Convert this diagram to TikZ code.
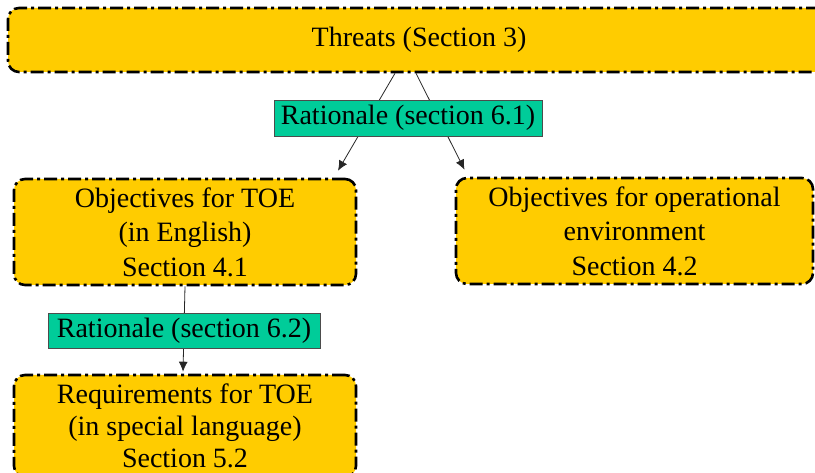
\documentclass[tikz,border=0pt]{standalone}
\usepackage{fontspec}
\setmainfont{Liberation Serif}
\usepackage{tikz}
\usetikzlibrary{arrows.meta}

\definecolor{boxgold}{RGB}{255,204,0}
\definecolor{ratgreen}{RGB}{0,204,153}

\begin{document}
\begin{tikzpicture}[x=1pt,y=-1pt,
  part/.style={draw=black, fill=boxgold, line width=2.6pt, rounded corners=11pt,
    dash pattern=on 13pt off 4pt on 3pt off 4pt, align=center,
    inner sep=0pt, font=\fontsize{28}{34.5}\selectfont},
  rationale/.style={draw=black!70, fill=ratgreen, thin, inner sep=0pt,
    font=\fontsize{28}{30}\selectfont},
  conn/.style={draw=black!85, line width=0.8pt, -{Latex[length=10pt,width=9pt]}}]
\useasboundingbox (0,0) rectangle (815,473);
\clip (0,0) rectangle (815,473);
\node[part, minimum width=822pt, minimum height=64pt] (threats) at (419,40) {Threats (Section 3)};
\node[part, minimum width=342pt, minimum height=106pt] (objtoe) at (185,232) {Objectives for TOE\\(in English)\\Section 4.1};
\node[part, minimum width=357pt, minimum height=106pt] (objenv) at (634.5,231) {Objectives for operational\\environment\\Section 4.2};
\node[part, minimum width=342pt, minimum height=102pt, font=\fontsize{28}{32}\selectfont] (req) at (185,426) {Requirements for TOE\\(in special language)\\Section 5.2};
\draw[conn] ([xshift=-24pt]threats.south) -- ([xshift=153pt,yshift=7pt]objtoe.north);
\draw[conn] ([xshift=-3pt]threats.south) -- ([xshift=-170pt,yshift=7pt]objenv.north);
\draw[conn] (objtoe.south) -- ([xshift=-2pt,yshift=2pt]req.north);
\node[rationale, minimum width=268pt, minimum height=36pt] (rat1) at (408,118) {Rationale (section 6.1)};
\node[rationale, minimum width=272pt, minimum height=35pt] (rat2) at (184,330.5) {Rationale (section 6.2)};
\end{tikzpicture}
\end{document}
